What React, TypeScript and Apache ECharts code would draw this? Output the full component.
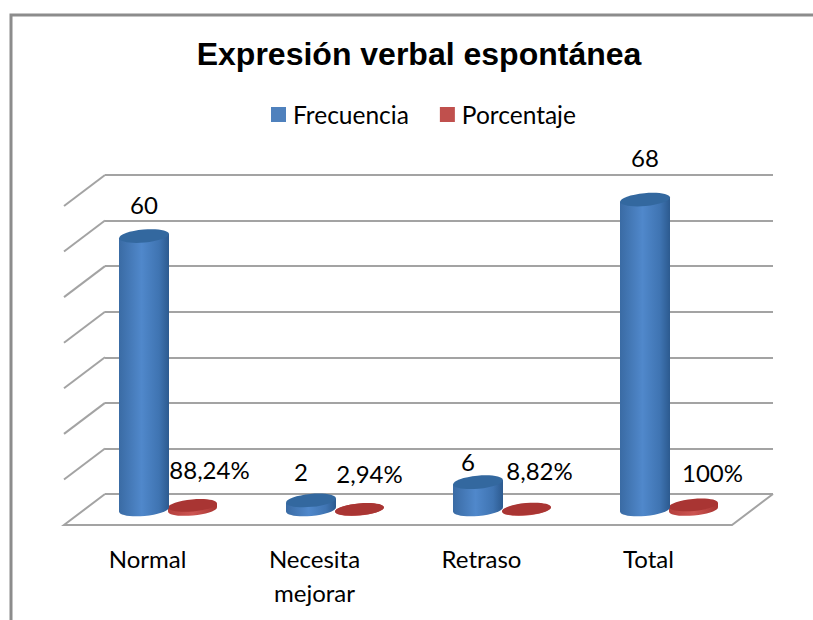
import React, { useEffect, useRef } from "react";
import * as echarts from "echarts";

const categories = ["Normal", "Necesita\nmejorar", "Retraso", "Total"];
const frecuencia = [60, 2, 6, 68];
const porcentaje = [0.8824, 0.0294, 0.0882, 1];
const frecuenciaLabels = ["60", "2", "6", "68"];
const porcentajeLabels = ["88,24%", "2,94%", "8,82%", "100%"];
const gridTicks = [0, 10, 20, 30, 40, 50, 60, 70];

// Layout constants (3D projection and manually placed labels of the original)
const DEPTH_X = 41;
const DEPTH_Y = 31;
const MID_X = 20.5;
const MID_Y = -15.5;
const TILT = 0.09;
const blueNudge = [[0, -32], [-10, -29], [-10, -21], [0, -42]];
const redNudge = [[17, -36], [10, -36], [13, -39], [19, -32]];
const FONT = "Lato, Carlito, sans-serif";
const LINE = "#a3a3a3";

function hGrad(stops: [number, string][]) {
  return new echarts.graphic.LinearGradient(0, 0, 1, 0, stops.map(([offset, color]) => ({ offset, color })));
}

function cylinder(cx: number, topY: number, baseY: number, rx: number, ry: number, side: any, cap: string, tilt: number) {
  const t = rx * Math.sin(tilt);
  return [
    { type: "ellipse", x: cx, y: baseY, rotation: tilt, shape: { cx: 0, cy: 0, rx, ry }, style: { fill: side } },
    {
      type: "polygon",
      shape: { points: [[cx - rx, topY + t], [cx + rx, topY - t], [cx + rx, baseY - t], [cx - rx, baseY + t]] },
      style: { fill: side },
    },
    { type: "ellipse", x: cx, y: topY, rotation: tilt, shape: { cx: 0, cy: 0, rx, ry }, style: { fill: cap } },
  ];
}

function labelText(text: string, x: number, y: number) {
  return {
    type: "text",
    z2: 10,
    style: { text, x, y, align: "center", verticalAlign: "middle", fill: "#000", font: `24px ${FONT}` },
  };
}

export default function App() {
  const ref = useRef<HTMLDivElement>(null);
  useEffect(() => {
    document.body.style.margin = "0";
    const chart = echarts.init(ref.current!, undefined, { renderer: "svg" });

    const blueSide = hGrad([[0, "#3a6ba4"], [0.45, "#5088cb"], [0.8, "#3f74b2"], [1, "#2c5a8f"]]);
    const redSide = hGrad([[0, "#b5403d"], [0.5, "#cc5552"], [1, "#a83431"]]);

    const valueAxis = (gridIndex: number, lines: boolean) => ({
      type: "value",
      gridIndex,
      min: 0,
      max: 70,
      interval: 10,
      axisLabel: { show: false },
      axisLine: { show: false },
      axisTick: { show: false },
      splitLine: { show: lines, lineStyle: { color: LINE, width: 2 } },
    });

    chart.setOption({
      animation: false,
      title: {
        text: "Expresión verbal espontánea",
        left: 414,
        top: 33,
        textAlign: "center",
        textStyle: { fontFamily: "Liberation Sans, Arial, sans-serif", fontWeight: "bold", fontSize: 32, color: "#000" },
      },
      legend: {
        left: 266,
        top: 97,
        data: ["Frecuencia", "Porcentaje"],
        icon: "path://M0 0H10V10H0Z",
        itemWidth: 15,
        itemHeight: 15,
        itemGap: 31,
        selectedMode: false,
        textStyle: { fontFamily: FONT, fontSize: 24.5, color: "#000", padding: [0, 0, 0, 2] },
      },
      graphic: [
        {
          type: "polyline",
          shape: { points: [[11, 620], [11, 15], [813, 15]] },
          style: { stroke: "#8c8c8c", lineWidth: 3, fill: "none" },
        },
      ],
      grid: [
        { left: 64, top: 206, width: 668, height: 319 },
        { left: 105, top: 175, width: 668, height: 319 },
      ],
      xAxis: [
        {
          type: "category",
          gridIndex: 0,
          data: categories,
          axisLine: { show: false },
          axisTick: { show: false },
          axisLabel: { fontFamily: FONT, fontSize: 24, color: "#000", margin: 16, lineHeight: 34, interval: 0 },
        },
        { type: "category", gridIndex: 1, data: categories, show: false },
      ],
      yAxis: [valueAxis(0, false), valueAxis(1, true)],
      series: [
        {
          name: "Rejilla",
          type: "custom",
          xAxisIndex: 1,
          yAxisIndex: 1,
          z: 1,
          data: gridTicks.map((v) => [0, v]),
          renderItem: (params: any, api: any) => {
            const cs = params.coordSys;
            const y = api.coord([0, api.value(1)])[1];
            const lineStyle = { stroke: LINE, lineWidth: 2, fill: "none" };
            const points =
              api.value(1) === 0
                ? [
                    [cs.x + cs.width, y],
                    [cs.x + cs.width - DEPTH_X, y + DEPTH_Y],
                    [cs.x - DEPTH_X, y + DEPTH_Y],
                    [cs.x, y],
                  ]
                : [[cs.x - DEPTH_X, y + DEPTH_Y], [cs.x, y]];
            return { type: "polyline", shape: { points }, style: lineStyle };
          },
        },
        {
          name: "Porcentaje",
          type: "custom",
          xAxisIndex: 0,
          yAxisIndex: 0,
          z: 3,
          itemStyle: { color: "#c0504d" },
          data: porcentaje.map((v, i) => [i, v]),
          renderItem: (params: any, api: any) => {
            const i = params.dataIndex;
            const [bx, by] = api.coord([i, 0]);
            const topY = api.coord([i, api.value(1)])[1] + MID_Y;
            const cx = bx + MID_X + 24.5;
            return {
              type: "group",
              children: [
                ...cylinder(cx, topY, by + MID_Y, 24.5, 6, redSide, "#a93533", TILT),
                labelText(porcentajeLabels[i], cx + redNudge[i][0], topY + redNudge[i][1]),
              ],
            };
          },
        },
        {
          name: "Frecuencia",
          type: "custom",
          xAxisIndex: 0,
          yAxisIndex: 0,
          z: 4,
          itemStyle: { color: "#4f81bd" },
          data: frecuencia.map((v, i) => [i, v]),
          renderItem: (params: any, api: any) => {
            const i = params.dataIndex;
            const [bx, by] = api.coord([i, 0]);
            const topY = api.coord([i, api.value(1)])[1] + MID_Y;
            const cx = bx + MID_X - 24;
            return {
              type: "group",
              children: [
                ...cylinder(cx, topY, by + MID_Y, 25, 6.5, blueSide, "#33689f", TILT),
                labelText(frecuenciaLabels[i], cx + blueNudge[i][0], topY + blueNudge[i][1]),
              ],
            };
          },
        },
      ],
    });
    return () => chart.dispose();
  }, []);
  return <div ref={ref} style={{ width: 813, height: 620, background: "#fff" }} />;
}
